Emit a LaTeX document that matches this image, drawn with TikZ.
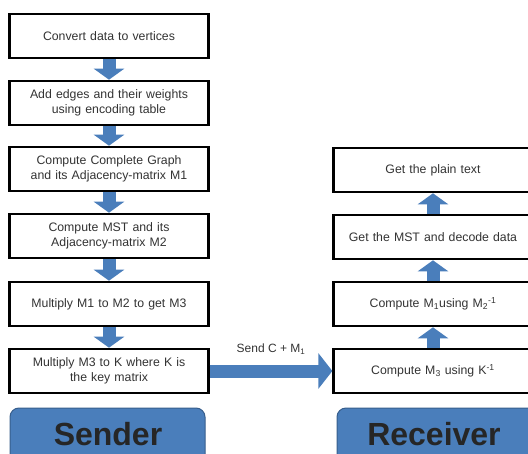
\documentclass[tikz,border=0pt]{standalone}
\usepackage{fontspec}
\setmainfont{Liberation Sans}
\usetikzlibrary{arrows.meta}
\definecolor{blockblue}{HTML}{4A7EBB}
\definecolor{textgray}{HTML}{333333}
\tikzset{
  stepbox/.style={draw=black, line width=2.6pt, fill=white, minimum width=198pt,
    minimum height=44pt, text width=192pt, align=center, text=textgray,
    font=\fontsize{12.3}{15}\selectfont},
  rbox/.style={stepbox, minimum width=196pt},
  flow/.style={draw=blockblue, line width=13pt,
    -{Triangle[length=11pt,width=30pt]}},
  sendflow/.style={draw=blockblue, line width=13pt,
    -{Triangle[length=14pt,width=35pt]}},
  rolebox/.style={draw=blockblue!75!black, fill=blockblue, line width=1pt,
    rounded corners=9pt, font=\fontsize{32}{36}\selectfont\bfseries,
    text=black!85}
}
\begin{document}
\begin{tikzpicture}[x=1pt,y=-1pt]
  \useasboundingbox (0,0) rectangle (528,453);
  \begin{scope}
    \clip (0,0) rectangle (528,453);
    \node[rolebox, minimum width=195pt, minimum height=70pt] (sender) at (107.5,443) {};
    \node[rolebox, minimum width=205pt, minimum height=70pt] (receiver) at (439.5,443) {};
  \end{scope}
  \node[font=\fontsize{32}{36}\selectfont\bfseries, text=black!85] (sendertext) at (108,434) {Sender};
  \node[font=\fontsize{32}{36}\selectfont\bfseries, text=black!85] (receivertext) at (434,434) {Receiver};
  \draw
    (109,36) node[stepbox] (s1) {Convert data to vertices}
    (109,103) node[stepbox] (s2) {Add edges and their weights\\ using encoding table}
    (109,169) node[stepbox] (s3) {Compute Complete Graph\\ and its Adjacency-matrix M1}
    (109,236) node[stepbox] (s4) {Compute MST and its\\ Adjacency-matrix M2}
    (109,304) node[stepbox] (s5) {Multiply M1 to M2 to get M3}
    (109,371) node[stepbox] (s6) {Multiply M3 to K where K is\\ the key matrix};
  \draw
    (433,371) node[rbox] (r1) {Compute M\textsubscript{3} using K\textsuperscript{-1}}
    (433,304) node[rbox] (r2) {Compute M\textsubscript{1}using M\textsubscript{2}\textsuperscript{-1}}
    (433,237) node[rbox] (r3) {Get the MST and decode data}
    (433,170) node[rbox] (r4) {Get the plain text};
  \begin{scope}[flow]
    \draw (s1) to (s2);
    \draw (s2) to (s3);
    \draw (s3) to (s4);
    \draw (s4) to (s5);
    \draw (s5) to (s6);
    \draw (r1) to (r2);
    \draw (r2) to (r3);
    \draw (r3) to (r4);
  \end{scope}
  \draw[sendflow] (s6) to node[above=7pt, text=textgray, font=\fontsize{12}{14}\selectfont] (sendlabel) {Send C + M\textsubscript{1}} (r1);
\end{tikzpicture}
\end{document}
